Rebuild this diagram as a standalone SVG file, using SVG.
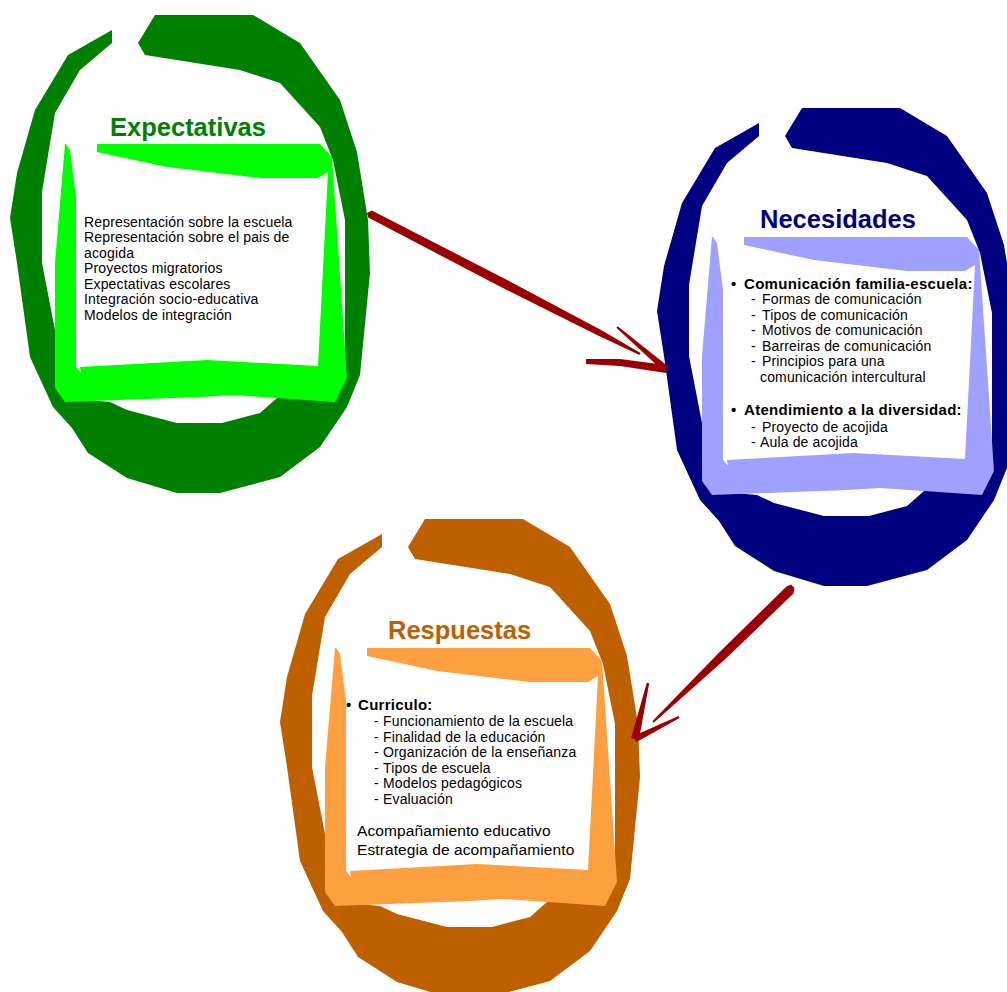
<svg xmlns="http://www.w3.org/2000/svg" xmlns:xlink="http://www.w3.org/1999/xlink" width="1007" height="992" viewBox="0 0 1007 992">
<style>
.t{font-family:"Liberation Sans",Arial,sans-serif;font-size:25.5px;font-weight:bold}
.b{font-family:"Liberation Sans",Arial,sans-serif;font-size:14px;fill:#000;letter-spacing:0.15px}
.h{font-family:"Liberation Sans",Arial,sans-serif;font-size:15px;font-weight:bold;fill:#000;letter-spacing:0.3px}
.l{font-family:"Liberation Sans",Arial,sans-serif;font-size:15.5px;fill:#000;letter-spacing:0.1px}
.arrow{fill:#9b0000}
</style>
<defs>
<path id="ring" d="M112,30 L68,55 L35,110 L17,173 L10,218 L17,263 L30,357 L53,407 L72,428 L88,453 L127,478 L177,493 L220,493 L280,477 L320,447 L347,407 L360,375 L370,273 L368,220 L357,152 L340,100 L300,43 L253,15 L155,15 L138,43 L145,55 L240,70 L280,83 L320,127 L333,160 L345,220 L345,380 L335,398 L277,398 L260,413 L222,423 L177,423 L127,410 L110,402 L65,398 L55,330 L42,263 L42,192 L55,113 L80,70 L112,43 Z"/>
<path id="panel" d="M65,144 L320,144 L332,157 L347,378 L335,402 L233,395 L200,397 L65,402 L55,388 L55,263 Z"/>
<path id="hole" d="M66,144 L97,144 L97,152 L167,167 L260,178 L318,178 L328,172 L318,366 L207,360 L80,367 L81,373 L76,367 L76,197 L70,150 Z"/>
</defs>

<g id="expectativas">
<use xlink:href="#ring" fill="#008000"/>
<use xlink:href="#panel" fill="#00ff00"/>
<use xlink:href="#hole" fill="#ffffff"/>
<text class="t" x="110" y="136" fill="#008000">Expectativas</text>
<text class="b" x="84" y="226.5">Representación sobre la escuela</text>
<text class="b" x="84" y="242">Representación sobre el pais de</text>
<text class="b" x="84" y="257.5">acogida</text>
<text class="b" x="84" y="273">Proyectos migratorios</text>
<text class="b" x="84" y="288.5">Expectativas escolares</text>
<text class="b" x="84" y="304">Integración socio-educativa</text>
<text class="b" x="84" y="319.5">Modelos de integración</text>
</g>

<g id="necesidades">
<g transform="translate(647,93)">
<use xlink:href="#ring" fill="#000080"/>
<use xlink:href="#panel" fill="#a0a0ff"/>
<use xlink:href="#hole" fill="#ffffff"/>
</g>
<text class="t" x="760" y="228" fill="#000080">Necesidades</text>
<text class="h" x="731" y="288.5">•</text>
<text class="h" x="744" y="288.5">Comunicación familia-escuela:</text>
<text class="b" x="751" y="304">-</text><text class="b" x="762" y="304">Formas de comunicación</text>
<text class="b" x="751" y="319.5">-</text><text class="b" x="762" y="319.5">Tipos de comunicación</text>
<text class="b" x="751" y="335">-</text><text class="b" x="762" y="335">Motivos de comunicación</text>
<text class="b" x="751" y="350.5">-</text><text class="b" x="762" y="350.5">Barreiras de comunicación</text>
<text class="b" x="751" y="366">-</text><text class="b" x="762" y="366">Principios para una</text>
<text class="b" x="760" y="381.5">comunicación intercultural</text>
<text class="h" x="731" y="415">•</text>
<text class="h" x="744" y="415">Atendimiento a la diversidad:</text>
<text class="b" x="751" y="431.5">-</text><text class="b" x="762" y="431.5">Proyecto de acojida</text>
<text class="b" x="751" y="447">-</text><text class="b" x="760" y="447">Aula de acojida</text>
</g>

<g id="respuestas">
<g transform="translate(270,504)">
<use xlink:href="#ring" fill="#bf6000"/>
<use xlink:href="#panel" fill="#ffa040"/>
<use xlink:href="#hole" fill="#ffffff"/>
</g>
<text class="t" x="388" y="639" fill="#bf6000">Respuestas</text>
<text class="h" x="346" y="710">•</text>
<text class="h" x="358" y="710">Curriculo:</text>
<text class="b" x="374" y="726">-</text><text class="b" x="383" y="726">Funcionamiento de la escuela</text>
<text class="b" x="374" y="741.5">-</text><text class="b" x="383" y="741.5">Finalidad de la educación</text>
<text class="b" x="374" y="757">-</text><text class="b" x="383" y="757">Organización de la enseñanza</text>
<text class="b" x="374" y="772.5">-</text><text class="b" x="383" y="772.5">Tipos de escuela</text>
<text class="b" x="374" y="788">-</text><text class="b" x="383" y="788">Modelos pedagógicos</text>
<text class="b" x="374" y="803.5">-</text><text class="b" x="383" y="803.5">Evaluación</text>
<text class="l" x="357" y="836">Acompañamiento educativo</text>
<text class="l" x="357" y="854.5">Estrategia de acompañamiento</text>
</g>

<g id="connectors">
<polygon class="arrow" points="367,213 371.8,210.4 507.1,280 601.5,330.2 640.5,353.1 639.5,354.9 598.5,335.8 502.9,288 368.2,217.6"/>
<polygon class="arrow" points="617.7,326.2 668.3,366.4 663.7,371.6 616.3,327.8"/>
<polygon class="arrow" points="586,359 620,359 666,365 666,373 620,366 586,364"/>
<polygon class="arrow" points="786.5,586.4 791,584.5 794.5,588 793.5,593.6 725.1,659.2 653.7,722.7 652.3,721.3 718.9,652.8"/>
<polygon class="arrow" points="646.8,682.7 649.2,683.3 638.9,739.9 631.1,738.1"/>
<polygon class="arrow" points="678.5,715.9 679.5,718.1 636.6,742.1 633.4,735.9"/>
</g>
</svg>
